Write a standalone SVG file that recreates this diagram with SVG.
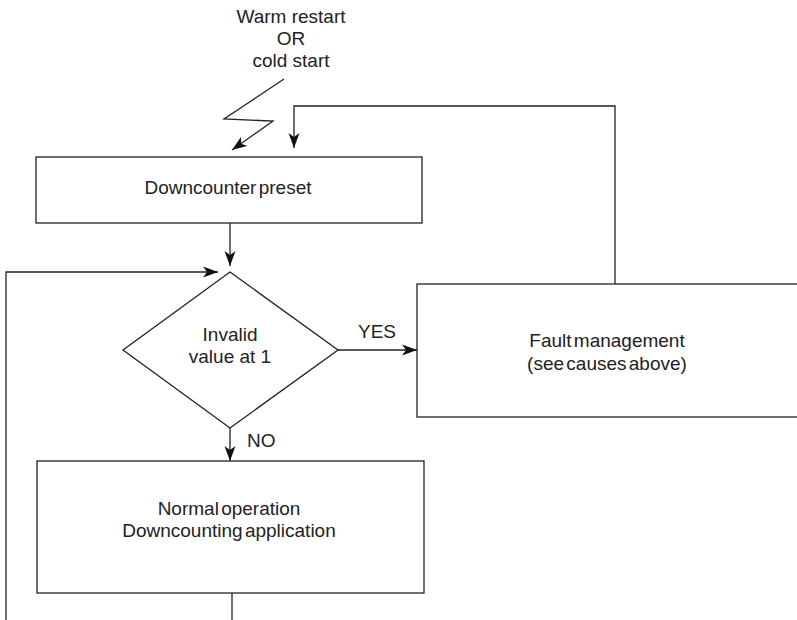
<svg xmlns="http://www.w3.org/2000/svg" width="797" height="620" viewBox="0 0 797 620">
  <style>
    .box { fill: #fff; stroke: #222; stroke-width: 1.3; }
    .wire { fill: none; stroke: #222; stroke-width: 1.3; }
    text { font-family: "Liberation Sans", Arial, sans-serif; font-size: 19px; fill: #222; }
    .c { text-anchor: middle; }
    .tight { word-spacing: -3px; }
  </style>
  <defs>
    <marker id="arrow" markerUnits="userSpaceOnUse" markerWidth="16" markerHeight="12" refX="15" refY="6" orient="auto">
      <path d="M0,0.5 L15,6 L0,11.5 L4,6 z" fill="#111"/>
    </marker>
  </defs>
  <rect width="797" height="620" fill="#fff"/>

  <g id="connectors">
    <polyline class="wire" points="284,79 224,119 273,121 232,150" marker-end="url(#arrow)"/>
    <polyline class="wire" points="615,284 615,106 294,106 294,148" marker-end="url(#arrow)"/>
    <line class="wire" x1="230" y1="223" x2="230" y2="266" marker-end="url(#arrow)"/>
    <polyline class="wire" points="6,620 6,272 218,272" marker-end="url(#arrow)"/>
    <line class="wire" x1="338" y1="350" x2="417" y2="350" marker-end="url(#arrow)"/>
    <line class="wire" x1="230" y1="428" x2="230" y2="461" marker-end="url(#arrow)"/>
    <line class="wire" x1="232" y1="593" x2="232" y2="620"/>
    <text class="c" x="377" y="338">YES</text>
    <text x="247" y="447">NO</text>
  </g>

  <g id="start">
    <text class="c" x="291" y="23">Warm restart</text>
    <text class="c" x="291" y="45">OR</text>
    <text class="c" x="291" y="67">cold start</text>
  </g>

  <g id="preset">
    <rect class="box" x="36" y="157" width="386" height="66"/>
    <text class="c tight" x="228" y="194">Downcounter preset</text>
  </g>

  <g id="check">
    <polygon class="box" points="230,272 338,350 230,428 123,350"/>
    <text class="c" x="230" y="341">Invalid</text>
    <text class="c" x="230" y="363">value at 1</text>
  </g>

  <g id="fault">
    <rect class="box" x="417" y="284" width="392" height="133"/>
    <text class="c tight" x="607" y="347">Fault management</text>
    <text class="c tight" x="607" y="370">(see causes above)</text>
  </g>

  <g id="normal">
    <rect class="box" x="37" y="461" width="387" height="132"/>
    <text class="c tight" x="229" y="515">Normal operation</text>
    <text class="c tight" x="229" y="537">Downcounting application</text>
  </g>
</svg>
